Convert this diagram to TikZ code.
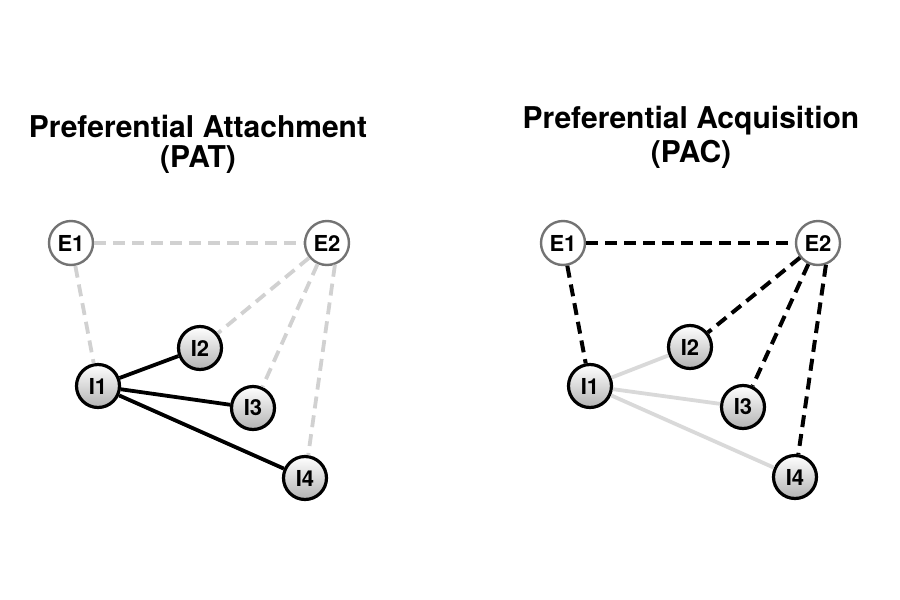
\documentclass[tikz,border=0pt]{standalone}
\usepackage{fontspec}
\setmainfont{TeX Gyre Heros}
\begin{document}
\begin{tikzpicture}[x=0.5pt,y=-0.5pt,
  ext/.style={circle,draw=black!55,line width=1.2pt,fill=white,minimum size=22pt,inner sep=0pt,font=\bfseries\fontsize{11}{13}\selectfont},
  int/.style={circle,draw=black,line width=1.6pt,top color=white,bottom color=black!30,minimum size=21.5pt,inner sep=0pt,font=\bfseries\fontsize{11}{13}\selectfont},
  title/.style={font=\bfseries\fontsize{15}{18}\selectfont,align=center,inner sep=0pt},
  ltdash/.style={draw=black!18,line width=1.9pt,dash pattern=on 6pt off 3.5pt},
  dkdash/.style={draw=black,line width=2pt,dash pattern=on 6pt off 3.5pt},
  ltsolid/.style={draw=black!15,line width=1.9pt},
  dksolid/.style={draw=black,line width=1.9pt}]
\useasboundingbox (0,0) rectangle (900,600);
% titles
\node[title] (t1a) at (198,126) {Preferential Attachment};
\node[title] (t1b) at (198,160) {(PAT)};
\node[title] (t2a) at (691,121) {Preferential Acquisition};
\node[title] (t2b) at (691,154) {(PAC)};
% left panel
\node[ext] (aE1) at (71,243) {E1};
\node[ext] (aE2) at (327,243) {E2};
\node[int] (aI1) at (98,386) {I1};
\node[int] (aI2) at (200,348) {I2};
\node[int] (aI3) at (253,408) {I3};
\node[int] (aI4) at (305,478) {I4};
\draw[ltdash] (aE1) -- (aE2);
\draw[ltdash] (aE1) -- (aI1);
\draw[ltdash] (aE2) -- (aI2);
\draw[ltdash] (aE2) -- (aI3);
\draw[ltdash] (aE2.-70) -- (aI4);
\draw[dksolid] (aI1) -- (aI2);
\draw[dksolid] (aI1) -- (aI3);
\draw[dksolid] (aI1) -- (aI4);
% right panel
\node[ext] (bE1) at (563,243) {E1};
\node[ext] (bE2) at (818,243) {E2};
\node[int] (bI1) at (590,386) {I1};
\node[int] (bI2) at (690,347) {I2};
\node[int] (bI3) at (743,407) {I3};
\node[int] (bI4) at (795,477) {I4};
\draw[dkdash] (bE1) -- (bE2);
\draw[dkdash] (bE1) -- (bI1);
\draw[dkdash] (bE2) -- (bI2);
\draw[dkdash] (bE2) -- (bI3);
\draw[dkdash] (bE2.-70) -- (bI4);
\draw[ltsolid] (bI1) -- (bI2);
\draw[ltsolid] (bI1) -- (bI3);
\draw[ltsolid] (bI1) -- (bI4);
\end{tikzpicture}
\end{document}
